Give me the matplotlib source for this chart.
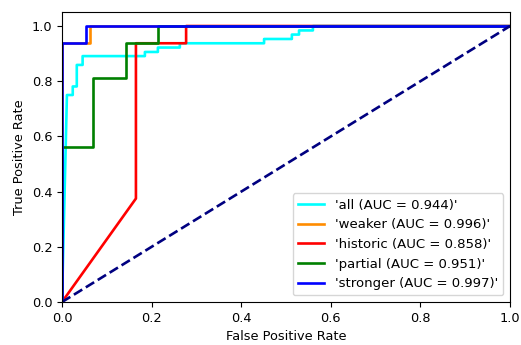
import matplotlib
matplotlib.use("Agg")
import matplotlib.pyplot as plt

plt.rcParams['font.size'] = 9.3

# ROC curves (fpr, tpr)
fpr_all = [0.0, 0.011, 0.024, 0.024, 0.033, 0.033, 0.046, 0.046, 0.185, 0.185, 0.214, 0.214,
           0.263, 0.263, 0.451, 0.451, 0.513, 0.513, 0.529, 0.529, 0.560, 0.560, 1.0]
tpr_all = [0.0, 0.75, 0.75, 0.781, 0.781, 0.859, 0.859, 0.891, 0.891, 0.906, 0.906, 0.922,
           0.922, 0.9375, 0.9375, 0.953, 0.953, 0.969, 0.969, 0.984, 0.984, 1.0, 1.0]

fpr_weaker = [0.0, 0.0, 0.0625, 0.0625, 1.0]
tpr_weaker = [0.0, 0.9375, 0.9375, 1.0, 1.0]

fpr_historic = [0.0, 0.165, 0.165, 0.277, 0.277, 1.0]
tpr_historic = [0.0, 0.375, 0.9375, 0.9375, 1.0, 1.0]

fpr_partial = [0.0, 0.0, 0.0685, 0.0685, 0.143, 0.143, 0.2135, 0.2135, 1.0]
tpr_partial = [0.0, 0.5625, 0.5625, 0.8125, 0.8125, 0.9375, 0.9375, 1.0, 1.0]

fpr_stronger = [0.0, 0.0, 0.054, 0.054, 1.0]
tpr_stronger = [0.0, 0.9375, 0.9375, 1.0, 1.0]

names = ['all', 'weaker', 'historic', 'partial', 'stronger']
aucs = [0.944, 0.996, 0.858, 0.951, 0.997]
colors = ['aqua', 'darkorange', 'red', 'green', 'blue']

curves = [(fpr_all, tpr_all), (fpr_weaker, tpr_weaker), (fpr_historic, tpr_historic),
          (fpr_partial, tpr_partial), (fpr_stronger, tpr_stronger)]

fig = plt.figure(figsize=(5.21, 3.45), dpi=100)
ax = fig.add_axes([0.119, 0.1246, 0.860, 0.840])

for (fpr, tpr), name, auc, col in zip(curves, names, aucs, colors):
    ax.plot(fpr, tpr, color=col, lw=1.9, label="'%s (AUC = %0.3f)'" % (name, auc))

ax.plot([0, 1], [0, 1], color='navy', lw=1.9, linestyle='--')
ax.set_xlim([0.0, 1.0])
ax.set_ylim([0.0, 1.05])
ax.set_xlabel('False Positive Rate')
ax.set_ylabel('True Positive Rate')
ax.legend(loc='lower right', fontsize=9.5)

fig.savefig('out.png', dpi=100)
